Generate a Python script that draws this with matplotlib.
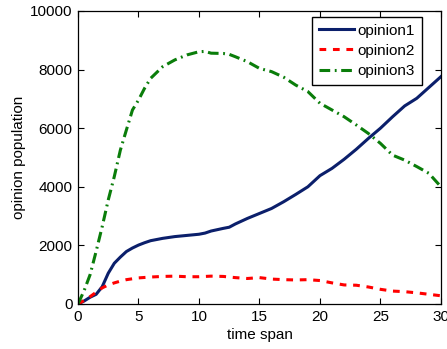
import matplotlib
matplotlib.use("Agg")
import matplotlib.pyplot as plt

plt.rcParams['font.family'] = ['Liberation Sans', 'DejaVu Sans']

# values
t = [0, 0.5, 1, 1.5, 2, 2.5, 3, 3.5, 4, 4.5, 5, 5.5, 6, 7, 8, 9, 10, 10.5, 11, 12,
     12.5, 13, 14, 15, 16, 17, 18, 19, 20, 21, 22, 23, 24, 25, 26, 27, 28, 29, 30]
opinion1 = [0, 100, 230, 330, 590, 1050, 1390, 1600, 1790, 1910, 2010, 2090, 2160, 2240,
            2300, 2340, 2380, 2420, 2490, 2580, 2620, 2730, 2920, 3090, 3260, 3490, 3740,
            4000, 4380, 4630, 4940, 5280, 5650, 6000, 6390, 6760, 7020, 7390, 7760]
opinion2 = [0, 120, 250, 400, 550, 650, 720, 780, 830, 860, 890, 905, 920, 940,
            950, 930, 930, 940, 950, 940, 920, 900, 870, 900, 850, 830, 820,
            830, 800, 720, 650, 640, 580, 500, 440, 420, 380, 330, 280]
opinion3 = [0, 450, 1000, 1800, 2640, 3550, 4350, 5250, 5940, 6620, 6960, 7360, 7700, 8100,
            8330, 8500, 8610, 8620, 8560, 8550, 8520, 8440, 8270, 8040, 7930, 7740, 7470,
            7250, 6850, 6620, 6390, 6110, 5820, 5480, 5080, 4910, 4690, 4460, 4000]

fig = plt.figure(figsize=(4.47, 3.49), dpi=100)
ax = fig.add_axes([0.1745, 0.129, 0.812, 0.8395])

ax.plot(t, opinion1, color='#0b1f6b', lw=2.2, ls='-', label='opinion1')
ax.plot(t, opinion2, color='#ff0000', lw=2.2, ls=(0, (2.2, 2.2)), label='opinion2')
ax.plot(t, opinion3, color='#0a7d0a', lw=2.2, ls=(0, (3.5, 1.5, 0.6, 1.5)), label='opinion3')

ax.set_xlim(0, 30)
ax.set_ylim(0, 10000)
ax.set_xticks(range(0, 31, 5))
ax.set_yticks(range(0, 10001, 2000))
ax.tick_params(direction='in', top=True, right=True, labelsize=11, length=4, width=0.8, pad=4)
for s in ax.spines.values():
    s.set_linewidth(0.9)

ax.set_xlabel('time span', fontsize=11, labelpad=3)
ax.set_ylabel('opinion population', fontsize=11, labelpad=3)

leg = ax.legend(loc='upper right', bbox_to_anchor=(0.948, 0.98), fontsize=11,
                fancybox=False, framealpha=1, edgecolor='black', borderaxespad=0,
                handlelength=2.3, handletextpad=0.25, labelspacing=0.4, borderpad=0.45)
leg.get_frame().set_linewidth(1.0)

fig.savefig('out.png', dpi=100)
